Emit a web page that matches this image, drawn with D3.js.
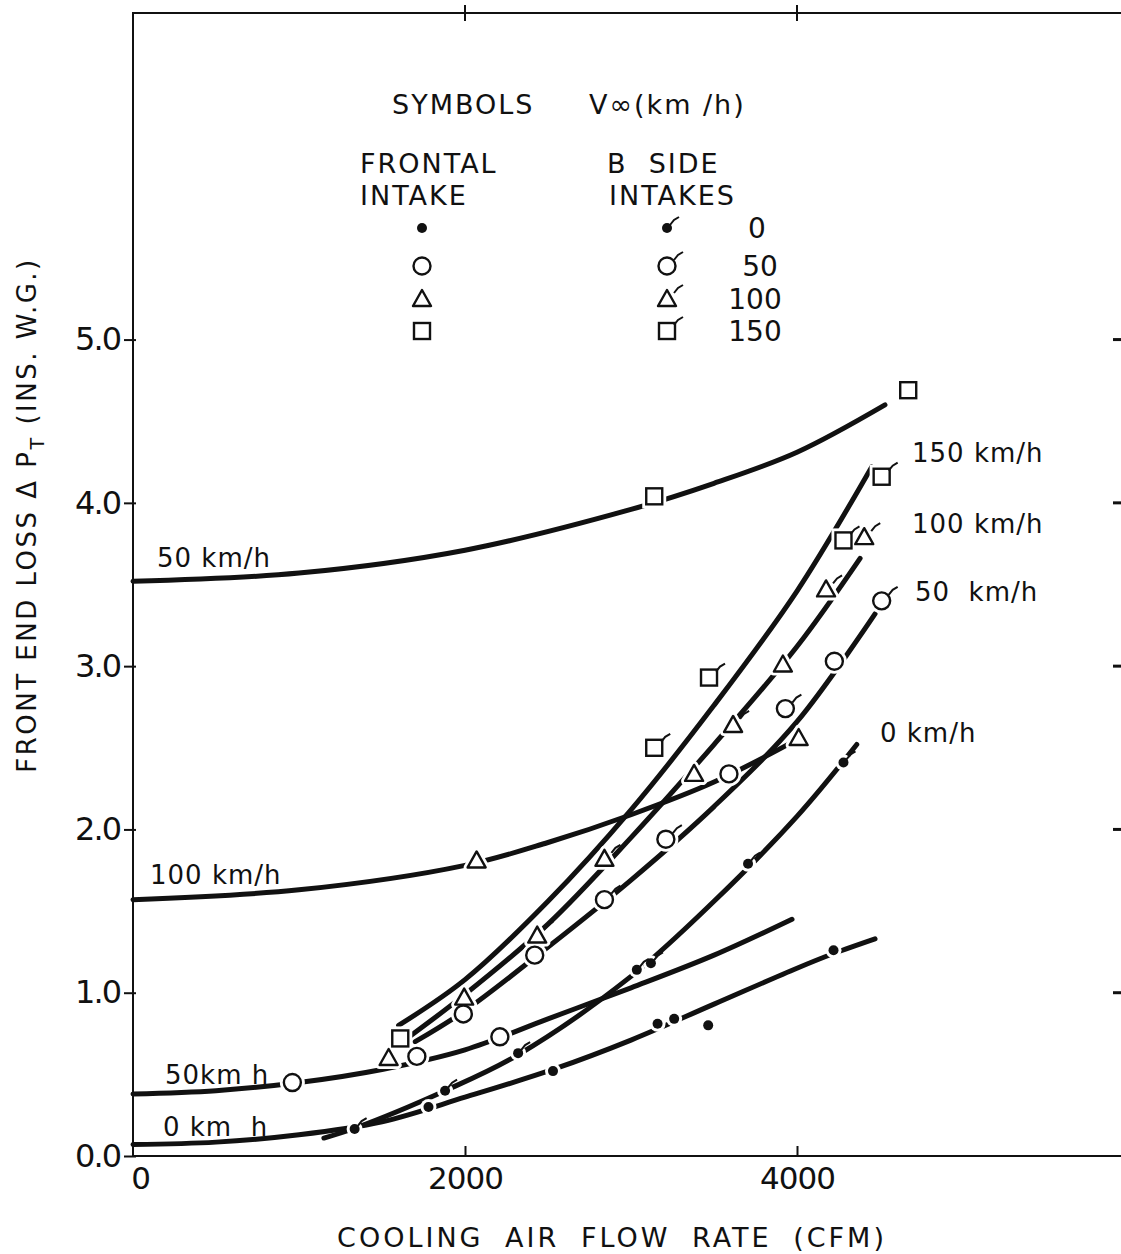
<!DOCTYPE html>
<html>
<head>
<meta charset="utf-8">
<title>Front end loss vs cooling air flow</title>
<script src="https://cdnjs.cloudflare.com/ajax/libs/d3/7.8.5/d3.min.js"></script>
<style>
body { margin: 0; background: #fff; }
svg text { font-family: "DejaVu Sans", sans-serif; fill: #111; }
</style>
</head>
<body>
<svg id="chart" width="1121" height="1254"></svg>
<script>
// tick values
var xTicks = [0, 2000, 4000];
var yTicks = [0, 1, 2, 3, 4, 5];

// frontal intake curves [cfm, in. w.g.]
var f150Line = [[0,3.52],[1000,3.57],[2000,3.71],[3000,3.96],[3500,4.12],[4000,4.31],[4530,4.60]];
var f150Pts  = [[3140,4.04],[4670,4.69]];
var f100Line = [[0,1.57],[1000,1.63],[2000,1.78],[2500,1.92],[3000,2.09],[3500,2.29],[4000,2.55]];
var f100Pts  = [[2070,1.81],[4010,2.56]];
var f50Line  = [[0,0.38],[500,0.40],[1000,0.45],[1500,0.53],[2000,0.65],[2500,0.84],[3000,1.03],[3500,1.23],[3970,1.45]];
var f50Pts   = [[960,0.45],[1710,0.61],[2210,0.73]];
var f0Line   = [[0,0.07],[500,0.085],[1000,0.13],[1500,0.21],[2000,0.36],[2530,0.53],[3000,0.71],[3500,0.93],[4000,1.15],[4220,1.24],[4470,1.33]];
var f0Pts    = [[1780,0.30],[2530,0.52],[3160,0.81],[3260,0.84],[3465,0.80],[4220,1.26]];

// B side intakes
var s150Line = [[1600,0.80],[2000,1.08],[2500,1.56],[3000,2.12],[3500,2.76],[4000,3.46],[4450,4.22]];
var s150Pts  = [[1610,0.72],[3140,2.50],[3470,2.93],[4280,3.77],[4510,4.16]];
var s100Line = [[1650,0.72],[2000,0.99],[2500,1.42],[3000,1.95],[3500,2.52],[4000,3.12],[4380,3.66]];
var s100Pts  = [[1540,0.60],[1995,0.97],[2435,1.35],[2840,1.82],[3380,2.34],[3615,2.64],[3915,3.01],[4175,3.47],[4405,3.79]];
var s50Line  = [[1700,0.70],[2000,0.89],[2500,1.28],[3000,1.69],[3500,2.14],[4000,2.66],[4470,3.32]];
var s50Pts   = [[1990,0.87],[2420,1.23],[2840,1.57],[3210,1.94],[3590,2.34],[3930,2.74],[4225,3.03],[4510,3.40]];
var s0Line   = [[1150,0.11],[1335,0.17],[1880,0.40],[2320,0.62],[3000,1.10],[3500,1.56],[4000,2.08],[4360,2.52]];
var s0Pts    = [[1335,0.165],[1880,0.40],[2320,0.63],[3035,1.14],[3120,1.18],[3705,1.79],[4280,2.41]];

// legend rows: symbol + speed
var legendSpeeds = ["0", "50", "100", "150"];
var legendSymbols = ["dot", "circle", "tri", "square"];

var svg = d3.select("#chart");
var x = d3.scaleLinear().domain([0, 6000]).range([133, 1129]);
var y = d3.scaleLinear().domain([0, 7]).range([1156, 13]);

// frame
var frame = svg.append("g").attr("stroke", "#111").attr("stroke-width", 2).attr("fill", "none");
frame.append("path").attr("d", "M" + x(6000) + "," + y(7) + "H" + x(0) + "V" + y(0) + "H" + x(6000));

var yAxis = d3.axisLeft(y).tickValues(yTicks).tickFormat(d3.format(".1f")).tickSize(9).tickPadding(4);
var gy = svg.append("g").attr("transform", "translate(" + x(0) + ",0)").call(yAxis);
gy.select(".domain").remove();
gy.selectAll("line").attr("stroke", "#111").attr("stroke-width", 2).attr("x2", -9).attr("x1", 3);
gy.selectAll("text").attr("font-size", 32).attr("letter-spacing", -2).attr("fill", "#111");

var xAxis = d3.axisBottom(x).tickValues(xTicks).tickFormat(d3.format("d")).tickSize(-10).tickPadding(11);
var gx = svg.append("g").attr("transform", "translate(0," + y(0) + ")").call(xAxis);
gx.select(".domain").remove();
gx.selectAll("line").attr("stroke", "#111").attr("stroke-width", 2);
gx.selectAll(".tick").filter(function(d) { return d === 0; }).select("line").remove();
gx.selectAll(".tick").filter(function(d) { return d === 0; }).select("text").attr("dx", 7);
gx.selectAll("text").attr("font-size", 31).attr("letter-spacing", -1).attr("fill", "#111");

// top ticks and right ticks
svg.append("g").selectAll("line").data([2000, 4000]).join("line")
  .attr("x1", function(d) { return x(d); }).attr("x2", function(d) { return x(d); })
  .attr("y1", y(7) - 8).attr("y2", y(7) + 8)
  .attr("stroke", "#111").attr("stroke-width", 2);
svg.append("g").selectAll("line").data([1, 2, 3, 4, 5]).join("line")
  .attr("x1", 1113).attr("x2", 1121)
  .attr("y1", function(d) { return y(d); }).attr("y2", function(d) { return y(d); })
  .attr("stroke", "#111").attr("stroke-width", 3);

// axis titles
var yt = svg.append("text").attr("transform", "translate(36,515) rotate(-90)")
  .attr("text-anchor", "middle").attr("font-size", 26).attr("letter-spacing", 2.5);
yt.append("tspan").text("FRONT END LOSS  \u0394 P");
yt.append("tspan").attr("font-size", 19).attr("dy", 8).text("T");
yt.append("tspan").attr("dy", -8).text("  (INS. W.G.)");

svg.append("text").attr("x", 612).attr("y", 1247).attr("text-anchor", "middle")
  .attr("font-size", 27).attr("letter-spacing", 3).attr("word-spacing", 10)
  .text("COOLING  AIR  FLOW  RATE   (CFM)");

// curves
var line = d3.line().x(function(d) { return x(d[0]); }).y(function(d) { return y(d[1]); })
  .curve(d3.curveCatmullRom.alpha(0.5));
var curves = [f150Line, f100Line, f50Line, f0Line, s150Line, s100Line, s50Line, s0Line];
svg.append("g").selectAll("path").data(curves).join("path")
  .attr("d", line).attr("fill", "none").attr("stroke", "#111")
  .attr("stroke-width", 5).attr("stroke-linecap", "round");

function drawMarker(g, type, side, cx, cy, halo) {
  var sw = halo ? 8 : 2.4;
  var col = halo ? "#fff" : "#111";
  if (type === "dot") {
    g.append("circle").attr("cx", cx).attr("cy", cy).attr("r", halo ? 8 : 5)
      .attr("fill", halo ? "#fff" : "#111").attr("stroke", "none");
  } else if (type === "circle") {
    g.append("circle").attr("cx", cx).attr("cy", cy).attr("r", 8.5)
      .attr("fill", "#fff").attr("stroke", col).attr("stroke-width", sw);
  } else if (type === "tri") {
    g.append("path").attr("d", "M" + (cx - 9) + "," + (cy + 7) + "L" + cx + "," + (cy - 9) + "L" + (cx + 9) + "," + (cy + 7) + "Z")
      .attr("fill", "#fff").attr("stroke", col).attr("stroke-width", sw).attr("stroke-linejoin", "round");
  } else {
    g.append("rect").attr("x", cx - 8).attr("y", cy - 8).attr("width", 16).attr("height", 16)
      .attr("fill", "#fff").attr("stroke", col).attr("stroke-width", sw);
  }
  if (side && !halo) {
    var ox = type === "dot" ? 3 : 7, oy = type === "dot" ? -3 : -6;
    g.append("path").attr("d", "M" + (cx + ox) + "," + (cy + oy) + "l4,-5l5,-3")
      .attr("fill", "none").attr("stroke", "#111").attr("stroke-width", 2);
  }
}

var series = [
  [f150Pts, "square", false, []], [f100Pts, "tri", false, []], [f50Pts, "circle", false, []], [f0Pts, "dot", false, []],
  [s150Pts, "square", true, [0]], [s100Pts, "tri", true, [0, 1, 4, 6]], [s50Pts, "circle", true, [0, 1, 4, 6]], [s0Pts, "dot", true, []]
];
var halos = svg.append("g");
var marks = svg.append("g");
series.forEach(function(s) {
  s[0].forEach(function(p, i) {
    var cx = x(p[0]), cy = y(p[1]);
    drawMarker(halos, s[1], false, cx, cy, true);
    drawMarker(marks, s[1], s[2] && s[3].indexOf(i) < 0, cx, cy, false);
  });
});

// legend
var lg = svg.append("g").attr("font-size", 27);
lg.append("text").attr("x", 392).attr("y", 114).attr("letter-spacing", 2).text("SYMBOLS");
lg.append("text").attr("x", 589).attr("y", 114).attr("letter-spacing", 2).text("V\u221E(km /h)");
lg.append("text").attr("x", 360).attr("y", 173).attr("letter-spacing", 2).text("FRONTAL");
lg.append("text").attr("x", 360).attr("y", 205).attr("letter-spacing", 2).text("INTAKE");
lg.append("text").attr("x", 607).attr("y", 173).attr("letter-spacing", 2).attr("xml:space", "preserve").text("B  SIDE");
lg.append("text").attr("x", 609).attr("y", 205).attr("letter-spacing", 2).text("INTAKES");
var rowY = [228, 266, 299, 331];
var rowX = [757, 760, 755, 755];
legendSymbols.forEach(function(t, i) {
  drawMarker(lg, t, false, 422, rowY[i], false);
  drawMarker(lg, t, true, 667, rowY[i], false);
  lg.append("text").attr("x", rowX[i]).attr("y", rowY[i] + 10).attr("text-anchor", "middle")
    .attr("font-size", 28).text(legendSpeeds[i]);
});

// curve labels
var labels = [
  [912, 462, "150 km/h"], [912, 533, "100 km/h"], [915, 601, "50  km/h"], [880, 742, "0 km/h"],
  [157, 567, "50 km/h"], [150, 884, "100 km/h"], [165, 1084, "50km h"], [163, 1136, "0 km  h"]
];
svg.append("g").selectAll("text").data(labels).join("text")
  .attr("x", function(d) { return d[0]; }).attr("y", function(d) { return d[1]; })
  .attr("font-size", 26).attr("letter-spacing", 1).attr("xml:space", "preserve").text(function(d) { return d[2]; });
</script>
</body>
</html>
